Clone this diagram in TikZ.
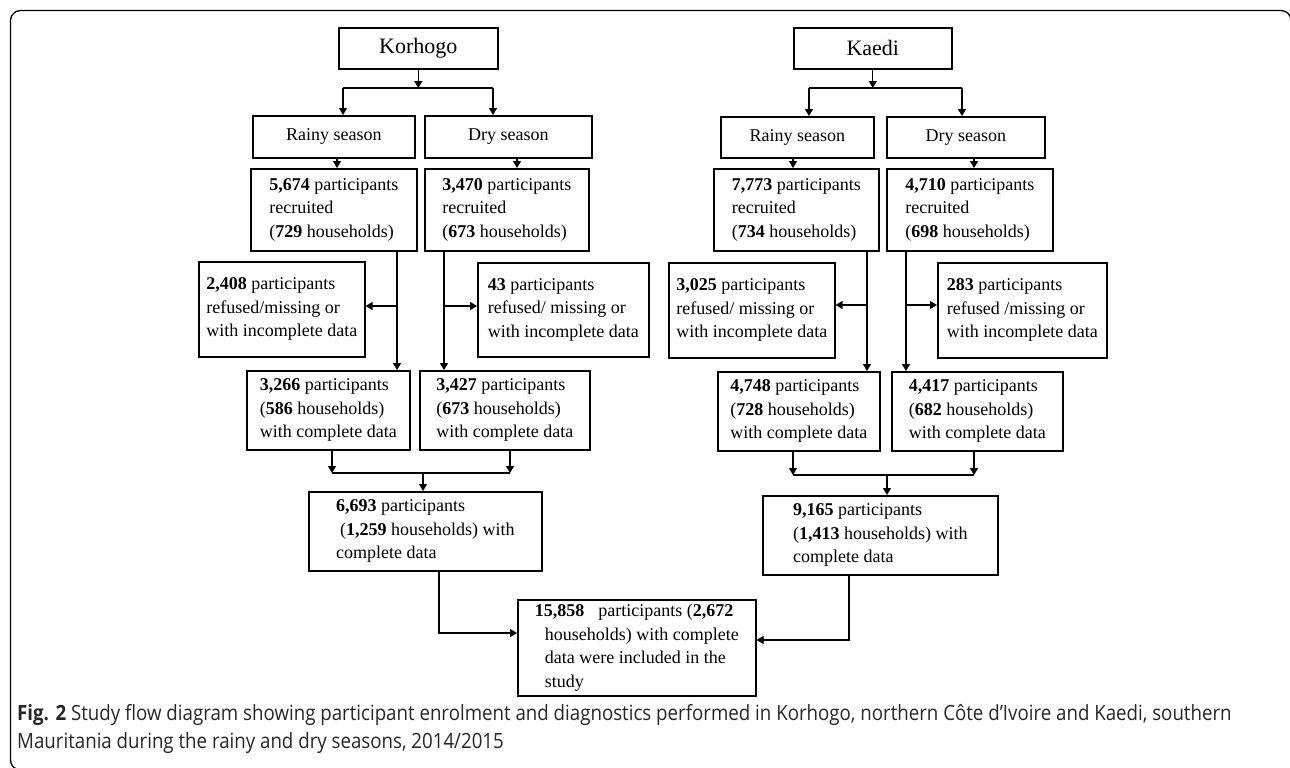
\documentclass[tikz,border=0pt]{standalone}
\usepackage{fontspec}
\setmainfont{Liberation Serif}
\newfontfamily\capfont[FakeStretch=0.89]{Open Sans}
\usetikzlibrary{arrows.meta}

\begin{document}
\begin{tikzpicture}[x=1pt,y=-1pt,
    box/.style={draw,line width=1.6pt,anchor=north west,inner sep=0pt,align=left,
      font=\fontsize{18}{23.5}\selectfont},
    cbox/.style={box,align=center},
    link/.style={line width=1.3pt},
    arr/.style={link,-{Triangle[width=8pt,length=7pt]}}]
    \useasboundingbox (0,0) rectangle (1290,768);
    % frame
    \draw[line width=1.3pt,rounded corners=10pt] (1291,40) -- (1291,10.5) -- (10.5,10.5) -- (10.5,770) -- (40,770);

    % Korhogo branch
    \node[cbox,minimum width=159pt,minimum height=41pt,font=\fontsize{22}{26}\selectfont] (kor) at (338,27) {Korhogo};
    \node[cbox,minimum width=162pt,minimum height=42pt] (kr) at (252,115) {Rainy season};
    \node[cbox,minimum width=167pt,minimum height=42pt] (kd) at (424,115) {Dry season};
    \node[box,minimum width=166pt,minimum height=82pt] (krr) at (250,168) {\textbf{5,674} participants\\recruited\\(\textbf{729} households)};
    \node[box,minimum width=164pt,minimum height=82pt] (kdr) at (424,168) {\textbf{3,470} participants\\recruited\\(\textbf{673} households)};
    \node[box,minimum width=166pt,minimum height=95pt] (krx) at (198,261) {\textbf{2,408} participants\\refused/missing or\\with incomplete data};
    \node[box,minimum width=171pt,minimum height=94pt] (kdx) at (477,262) {\textbf{43} participants\\refused/ missing or\\with incomplete data};
    \node[box,minimum width=163pt,minimum height=79pt] (krc) at (246,370) {\textbf{3,266} participants\\(\textbf{586} households)\\with complete data};
    \node[box,minimum width=170pt,minimum height=79pt] (kdc) at (419,370) {\textbf{3,427} participants\\(\textbf{673} households)\\with complete data};
    \node[box,minimum width=233pt,minimum height=79pt] (kall) at (308,491) {\textbf{6,693} participants\\\hspace*{4pt}(\textbf{1,259} households) with\\complete data};

    % Kaedi branch
    \node[cbox,minimum width=158pt,minimum height=41pt,font=\fontsize{22}{26}\selectfont] (kae) at (793,27) {Kaedi};
    \node[cbox,minimum width=153pt,minimum height=41pt] (ar) at (720,116) {Rainy season};
    \node[cbox,minimum width=158pt,minimum height=41pt] (ad) at (886,116) {Dry season};
    \node[box,minimum width=165pt,minimum height=82pt] (arr) at (713,168) {\textbf{7,773} participants\\recruited\\(\textbf{734} households)};
    \node[box,minimum width=166pt,minimum height=82pt] (adr) at (886,168) {\textbf{4,710} participants\\recruited\\(\textbf{698} households)};
    \node[box,minimum width=166pt,minimum height=95pt] (arx) at (668,262) {\textbf{3,025} participants\\refused/ missing or\\with incomplete data};
    \node[box,minimum width=169pt,minimum height=95pt] (adx) at (937,262) {\textbf{283} participants\\refused /missing or\\with incomplete data};
    \node[box,minimum width=162pt,minimum height=79pt] (arc) at (717,371) {\textbf{4,748} participants\\(\textbf{728} households)\\with complete data};
    \node[box,minimum width=171pt,minimum height=79pt] (adc) at (891,371) {\textbf{4,417} participants\\(\textbf{682} households)\\with complete data};
    \node[box,minimum width=235pt,minimum height=79pt] (aall) at (762,495) {\textbf{9,165} participants\\(\textbf{1,413} households) with\\complete data};

    % total
    \node[box,minimum width=238pt,minimum height=96pt] (total) at (517,599) {\textbf{15,858}\hspace{14pt}participants (\textbf{2,672}\\\hspace*{10pt}households) with complete\\\hspace*{10pt}data were included in the\\\hspace*{10pt}study};

    % Korhogo connectors
    \coordinate (korL) at (343,88);
    \coordinate (korR) at (493,88);
    \draw[arr] (kor.south) -- (kor.south |- korL);
    \draw[link] (korL) -- (korR);
    \draw[arr] (korL) -- (korL |- kr.north);
    \draw[arr] (korR) -- (korR |- kd.north);
    \coordinate (krd) at (337,157);
    \coordinate (kdd) at (517,157);
    \draw[arr] (krd) -- (krd |- krr.north);
    \draw[arr] (kdd) -- (kdd |- kdr.north);
    \coordinate (krv) at (397,306);
    \coordinate (kdv) at (444,306);
    \draw[arr] (krv |- krr.south) -- (krv |- krc.north);
    \draw[arr] (krv) -- (krx.east |- krv);
    \draw[arr] (kdv |- kdr.south) -- (kdv |- kdc.north);
    \draw[arr] (kdv) -- (kdx.west |- kdv);
    \coordinate (kmL) at (332,473);
    \coordinate (kmR) at (510,473);
    \coordinate (kmM) at (423,473);
    \draw[arr] (kmL |- krc.south) -- (kmL);
    \draw[arr] (kmR |- kdc.south) -- (kmR);
    \draw[link] (kmL) -- (kmR);
    \draw[arr] (kmM) -- (kmM |- kall.north);
    \coordinate (kbend) at (439,633);
    \draw[arr] (kbend |- kall.south) -- (kbend) -- (total.west |- kbend);

    % Kaedi connectors
    \coordinate (kaeL) at (809,88);
    \coordinate (kaeR) at (962,88);
    \draw[arr] (kae.south) -- (kae.south |- kaeL);
    \draw[link] (kaeL) -- (kaeR);
    \draw[arr] (kaeL) -- (kaeL |- ar.north);
    \draw[arr] (kaeR) -- (kaeR |- ad.north);
    \coordinate (ard) at (793,157);
    \coordinate (add) at (974,157);
    \draw[arr] (ard) -- (ard |- arr.north);
    \draw[arr] (add) -- (add |- adr.north);
    \coordinate (arv) at (867,305);
    \coordinate (adv) at (906,305);
    \draw[arr] (arv |- arr.south) -- (arv |- arc.north);
    \draw[arr] (arv) -- (arx.east |- arv);
    \draw[arr] (adv |- adr.south) -- (adv |- adc.north);
    \draw[arr] (adv) -- (adx.west |- adv);
    \coordinate (amL) at (793,475);
    \coordinate (amR) at (974,475);
    \coordinate (amM) at (887,475);
    \draw[arr] (amL |- arc.south) -- (amL);
    \draw[arr] (amR |- adc.south) -- (amR);
    \draw[link] (amL) -- (amR);
    \draw[arr] (amM) -- (amM |- aall.north);
    \coordinate (abend) at (849,640);
    \draw[arr] (abend |- aall.south) -- (abend) -- (total.east |- abend);

    % caption
    \node[anchor=west,inner sep=0pt,align=left,text=black!85,font=\capfont\fontsize{21}{28}\selectfont] (cap) at (17,729)
      {\textbf{Fig. 2} Study flow diagram showing participant enrolment and diagnostics performed in Korhogo, northern Côte d’Ivoire and Kaedi, southern\\Mauritania during the rainy and dry seasons, 2014/2015};
\end{tikzpicture}
\end{document}
